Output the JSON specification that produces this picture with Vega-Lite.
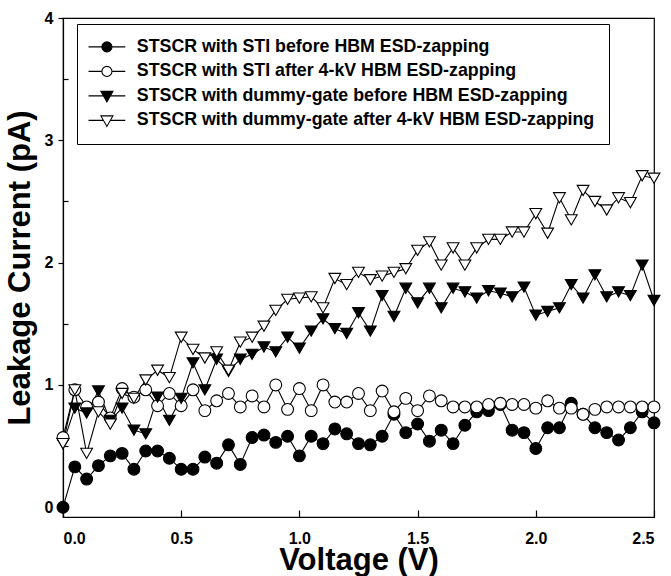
{
"$schema":"https://vega.github.io/schema/vega-lite/v6.json",
"width":591,"height":499,
"autosize":{"type":"none"},
"padding":{"left":63,"top":18,"right":17,"bottom":59},
"config":{"font":"Liberation Sans","view":{"stroke":"black","strokeWidth":1.2},
"axis":{"domainColor":"black","domainWidth":1.2,"tickColor":"black","tickWidth":1.2,"labelColor":"black","labelFontSize":16,"labelFontWeight":"bold","titleColor":"black","titleFontWeight":"bold","titleFontSize":31,"grid":false},
"legend":{"symbolStrokeColor":"black","symbolStrokeWidth":1.1}},
"data":{"values":[
{"series":"STSCR with STI before HBM ESD-zapping","V":0,"I":0.0},
{"series":"STSCR with STI before HBM ESD-zapping","V":0.05,"I":0.33},
{"series":"STSCR with STI before HBM ESD-zapping","V":0.1,"I":0.23},
{"series":"STSCR with STI before HBM ESD-zapping","V":0.15,"I":0.34},
{"series":"STSCR with STI before HBM ESD-zapping","V":0.2,"I":0.42},
{"series":"STSCR with STI before HBM ESD-zapping","V":0.25,"I":0.44},
{"series":"STSCR with STI before HBM ESD-zapping","V":0.3,"I":0.31},
{"series":"STSCR with STI before HBM ESD-zapping","V":0.35,"I":0.46},
{"series":"STSCR with STI before HBM ESD-zapping","V":0.4,"I":0.46},
{"series":"STSCR with STI before HBM ESD-zapping","V":0.45,"I":0.40},
{"series":"STSCR with STI before HBM ESD-zapping","V":0.5,"I":0.31},
{"series":"STSCR with STI before HBM ESD-zapping","V":0.55,"I":0.31},
{"series":"STSCR with STI before HBM ESD-zapping","V":0.6,"I":0.41},
{"series":"STSCR with STI before HBM ESD-zapping","V":0.65,"I":0.36},
{"series":"STSCR with STI before HBM ESD-zapping","V":0.7,"I":0.51},
{"series":"STSCR with STI before HBM ESD-zapping","V":0.75,"I":0.35},
{"series":"STSCR with STI before HBM ESD-zapping","V":0.8,"I":0.57},
{"series":"STSCR with STI before HBM ESD-zapping","V":0.85,"I":0.59},
{"series":"STSCR with STI before HBM ESD-zapping","V":0.9,"I":0.53},
{"series":"STSCR with STI before HBM ESD-zapping","V":0.95,"I":0.58},
{"series":"STSCR with STI before HBM ESD-zapping","V":1.0,"I":0.42},
{"series":"STSCR with STI before HBM ESD-zapping","V":1.05,"I":0.58},
{"series":"STSCR with STI before HBM ESD-zapping","V":1.1,"I":0.52},
{"series":"STSCR with STI before HBM ESD-zapping","V":1.15,"I":0.64},
{"series":"STSCR with STI before HBM ESD-zapping","V":1.2,"I":0.60},
{"series":"STSCR with STI before HBM ESD-zapping","V":1.25,"I":0.52},
{"series":"STSCR with STI before HBM ESD-zapping","V":1.3,"I":0.51},
{"series":"STSCR with STI before HBM ESD-zapping","V":1.35,"I":0.58},
{"series":"STSCR with STI before HBM ESD-zapping","V":1.4,"I":0.76},
{"series":"STSCR with STI before HBM ESD-zapping","V":1.45,"I":0.61},
{"series":"STSCR with STI before HBM ESD-zapping","V":1.5,"I":0.68},
{"series":"STSCR with STI before HBM ESD-zapping","V":1.55,"I":0.54},
{"series":"STSCR with STI before HBM ESD-zapping","V":1.6,"I":0.63},
{"series":"STSCR with STI before HBM ESD-zapping","V":1.65,"I":0.52},
{"series":"STSCR with STI before HBM ESD-zapping","V":1.7,"I":0.67},
{"series":"STSCR with STI before HBM ESD-zapping","V":1.75,"I":0.78},
{"series":"STSCR with STI before HBM ESD-zapping","V":1.8,"I":0.79},
{"series":"STSCR with STI before HBM ESD-zapping","V":1.85,"I":0.84},
{"series":"STSCR with STI before HBM ESD-zapping","V":1.9,"I":0.63},
{"series":"STSCR with STI before HBM ESD-zapping","V":1.95,"I":0.61},
{"series":"STSCR with STI before HBM ESD-zapping","V":2.0,"I":0.48},
{"series":"STSCR with STI before HBM ESD-zapping","V":2.05,"I":0.65},
{"series":"STSCR with STI before HBM ESD-zapping","V":2.1,"I":0.65},
{"series":"STSCR with STI before HBM ESD-zapping","V":2.15,"I":0.85},
{"series":"STSCR with STI before HBM ESD-zapping","V":2.2,"I":0.76},
{"series":"STSCR with STI before HBM ESD-zapping","V":2.25,"I":0.65},
{"series":"STSCR with STI before HBM ESD-zapping","V":2.3,"I":0.61},
{"series":"STSCR with STI before HBM ESD-zapping","V":2.35,"I":0.55},
{"series":"STSCR with STI before HBM ESD-zapping","V":2.4,"I":0.65},
{"series":"STSCR with STI before HBM ESD-zapping","V":2.45,"I":0.78},
{"series":"STSCR with STI before HBM ESD-zapping","V":2.5,"I":0.69},
{"series":"STSCR with STI after 4-kV HBM ESD-zapping","V":0,"I":0.57},
{"series":"STSCR with STI after 4-kV HBM ESD-zapping","V":0.05,"I":0.96},
{"series":"STSCR with STI after 4-kV HBM ESD-zapping","V":0.1,"I":0.82},
{"series":"STSCR with STI after 4-kV HBM ESD-zapping","V":0.15,"I":0.86},
{"series":"STSCR with STI after 4-kV HBM ESD-zapping","V":0.2,"I":0.73},
{"series":"STSCR with STI after 4-kV HBM ESD-zapping","V":0.25,"I":0.97},
{"series":"STSCR with STI after 4-kV HBM ESD-zapping","V":0.3,"I":0.90},
{"series":"STSCR with STI after 4-kV HBM ESD-zapping","V":0.35,"I":0.96},
{"series":"STSCR with STI after 4-kV HBM ESD-zapping","V":0.4,"I":0.83},
{"series":"STSCR with STI after 4-kV HBM ESD-zapping","V":0.45,"I":0.93},
{"series":"STSCR with STI after 4-kV HBM ESD-zapping","V":0.5,"I":0.83},
{"series":"STSCR with STI after 4-kV HBM ESD-zapping","V":0.55,"I":0.96},
{"series":"STSCR with STI after 4-kV HBM ESD-zapping","V":0.6,"I":0.79},
{"series":"STSCR with STI after 4-kV HBM ESD-zapping","V":0.65,"I":0.87},
{"series":"STSCR with STI after 4-kV HBM ESD-zapping","V":0.7,"I":0.93},
{"series":"STSCR with STI after 4-kV HBM ESD-zapping","V":0.75,"I":0.82},
{"series":"STSCR with STI after 4-kV HBM ESD-zapping","V":0.8,"I":0.91},
{"series":"STSCR with STI after 4-kV HBM ESD-zapping","V":0.85,"I":0.82},
{"series":"STSCR with STI after 4-kV HBM ESD-zapping","V":0.9,"I":1.00},
{"series":"STSCR with STI after 4-kV HBM ESD-zapping","V":0.95,"I":0.80},
{"series":"STSCR with STI after 4-kV HBM ESD-zapping","V":1.0,"I":0.97},
{"series":"STSCR with STI after 4-kV HBM ESD-zapping","V":1.05,"I":0.79},
{"series":"STSCR with STI after 4-kV HBM ESD-zapping","V":1.1,"I":1.00},
{"series":"STSCR with STI after 4-kV HBM ESD-zapping","V":1.15,"I":0.86},
{"series":"STSCR with STI after 4-kV HBM ESD-zapping","V":1.2,"I":0.86},
{"series":"STSCR with STI after 4-kV HBM ESD-zapping","V":1.25,"I":0.93},
{"series":"STSCR with STI after 4-kV HBM ESD-zapping","V":1.3,"I":0.79},
{"series":"STSCR with STI after 4-kV HBM ESD-zapping","V":1.35,"I":0.95},
{"series":"STSCR with STI after 4-kV HBM ESD-zapping","V":1.4,"I":0.78},
{"series":"STSCR with STI after 4-kV HBM ESD-zapping","V":1.45,"I":0.89},
{"series":"STSCR with STI after 4-kV HBM ESD-zapping","V":1.5,"I":0.79},
{"series":"STSCR with STI after 4-kV HBM ESD-zapping","V":1.55,"I":0.91},
{"series":"STSCR with STI after 4-kV HBM ESD-zapping","V":1.6,"I":0.87},
{"series":"STSCR with STI after 4-kV HBM ESD-zapping","V":1.65,"I":0.82},
{"series":"STSCR with STI after 4-kV HBM ESD-zapping","V":1.7,"I":0.82},
{"series":"STSCR with STI after 4-kV HBM ESD-zapping","V":1.75,"I":0.82},
{"series":"STSCR with STI after 4-kV HBM ESD-zapping","V":1.8,"I":0.84},
{"series":"STSCR with STI after 4-kV HBM ESD-zapping","V":1.85,"I":0.85},
{"series":"STSCR with STI after 4-kV HBM ESD-zapping","V":1.9,"I":0.84},
{"series":"STSCR with STI after 4-kV HBM ESD-zapping","V":1.95,"I":0.84},
{"series":"STSCR with STI after 4-kV HBM ESD-zapping","V":2.0,"I":0.81},
{"series":"STSCR with STI after 4-kV HBM ESD-zapping","V":2.05,"I":0.87},
{"series":"STSCR with STI after 4-kV HBM ESD-zapping","V":2.1,"I":0.81},
{"series":"STSCR with STI after 4-kV HBM ESD-zapping","V":2.15,"I":0.81},
{"series":"STSCR with STI after 4-kV HBM ESD-zapping","V":2.2,"I":0.76},
{"series":"STSCR with STI after 4-kV HBM ESD-zapping","V":2.25,"I":0.80},
{"series":"STSCR with STI after 4-kV HBM ESD-zapping","V":2.3,"I":0.82},
{"series":"STSCR with STI after 4-kV HBM ESD-zapping","V":2.35,"I":0.82},
{"series":"STSCR with STI after 4-kV HBM ESD-zapping","V":2.4,"I":0.82},
{"series":"STSCR with STI after 4-kV HBM ESD-zapping","V":2.45,"I":0.82},
{"series":"STSCR with STI after 4-kV HBM ESD-zapping","V":2.5,"I":0.82},
{"series":"STSCR with dummy-gate before HBM ESD-zapping","V":0,"I":0.52},
{"series":"STSCR with dummy-gate before HBM ESD-zapping","V":0.05,"I":0.81},
{"series":"STSCR with dummy-gate before HBM ESD-zapping","V":0.1,"I":0.77},
{"series":"STSCR with dummy-gate before HBM ESD-zapping","V":0.15,"I":0.95},
{"series":"STSCR with dummy-gate before HBM ESD-zapping","V":0.2,"I":0.71},
{"series":"STSCR with dummy-gate before HBM ESD-zapping","V":0.25,"I":0.81},
{"series":"STSCR with dummy-gate before HBM ESD-zapping","V":0.3,"I":0.63},
{"series":"STSCR with dummy-gate before HBM ESD-zapping","V":0.35,"I":0.60},
{"series":"STSCR with dummy-gate before HBM ESD-zapping","V":0.4,"I":0.90},
{"series":"STSCR with dummy-gate before HBM ESD-zapping","V":0.45,"I":0.71},
{"series":"STSCR with dummy-gate before HBM ESD-zapping","V":0.5,"I":0.89},
{"series":"STSCR with dummy-gate before HBM ESD-zapping","V":0.55,"I":1.18},
{"series":"STSCR with dummy-gate before HBM ESD-zapping","V":0.6,"I":0.96},
{"series":"STSCR with dummy-gate before HBM ESD-zapping","V":0.65,"I":1.21},
{"series":"STSCR with dummy-gate before HBM ESD-zapping","V":0.7,"I":1.11},
{"series":"STSCR with dummy-gate before HBM ESD-zapping","V":0.75,"I":1.21},
{"series":"STSCR with dummy-gate before HBM ESD-zapping","V":0.8,"I":1.25},
{"series":"STSCR with dummy-gate before HBM ESD-zapping","V":0.85,"I":1.31},
{"series":"STSCR with dummy-gate before HBM ESD-zapping","V":0.9,"I":1.27},
{"series":"STSCR with dummy-gate before HBM ESD-zapping","V":0.95,"I":1.39},
{"series":"STSCR with dummy-gate before HBM ESD-zapping","V":1.0,"I":1.30},
{"series":"STSCR with dummy-gate before HBM ESD-zapping","V":1.05,"I":1.44},
{"series":"STSCR with dummy-gate before HBM ESD-zapping","V":1.1,"I":1.54},
{"series":"STSCR with dummy-gate before HBM ESD-zapping","V":1.15,"I":1.46},
{"series":"STSCR with dummy-gate before HBM ESD-zapping","V":1.2,"I":1.42},
{"series":"STSCR with dummy-gate before HBM ESD-zapping","V":1.25,"I":1.59},
{"series":"STSCR with dummy-gate before HBM ESD-zapping","V":1.3,"I":1.44},
{"series":"STSCR with dummy-gate before HBM ESD-zapping","V":1.35,"I":1.73},
{"series":"STSCR with dummy-gate before HBM ESD-zapping","V":1.4,"I":1.56},
{"series":"STSCR with dummy-gate before HBM ESD-zapping","V":1.45,"I":1.79},
{"series":"STSCR with dummy-gate before HBM ESD-zapping","V":1.5,"I":1.67},
{"series":"STSCR with dummy-gate before HBM ESD-zapping","V":1.55,"I":1.79},
{"series":"STSCR with dummy-gate before HBM ESD-zapping","V":1.6,"I":1.63},
{"series":"STSCR with dummy-gate before HBM ESD-zapping","V":1.65,"I":1.79},
{"series":"STSCR with dummy-gate before HBM ESD-zapping","V":1.7,"I":1.76},
{"series":"STSCR with dummy-gate before HBM ESD-zapping","V":1.75,"I":1.71},
{"series":"STSCR with dummy-gate before HBM ESD-zapping","V":1.8,"I":1.77},
{"series":"STSCR with dummy-gate before HBM ESD-zapping","V":1.85,"I":1.75},
{"series":"STSCR with dummy-gate before HBM ESD-zapping","V":1.9,"I":1.72},
{"series":"STSCR with dummy-gate before HBM ESD-zapping","V":1.95,"I":1.80},
{"series":"STSCR with dummy-gate before HBM ESD-zapping","V":2.0,"I":1.57},
{"series":"STSCR with dummy-gate before HBM ESD-zapping","V":2.05,"I":1.60},
{"series":"STSCR with dummy-gate before HBM ESD-zapping","V":2.1,"I":1.63},
{"series":"STSCR with dummy-gate before HBM ESD-zapping","V":2.15,"I":1.82},
{"series":"STSCR with dummy-gate before HBM ESD-zapping","V":2.2,"I":1.71},
{"series":"STSCR with dummy-gate before HBM ESD-zapping","V":2.25,"I":1.90},
{"series":"STSCR with dummy-gate before HBM ESD-zapping","V":2.3,"I":1.72},
{"series":"STSCR with dummy-gate before HBM ESD-zapping","V":2.35,"I":1.76},
{"series":"STSCR with dummy-gate before HBM ESD-zapping","V":2.4,"I":1.73},
{"series":"STSCR with dummy-gate before HBM ESD-zapping","V":2.45,"I":1.98},
{"series":"STSCR with dummy-gate before HBM ESD-zapping","V":2.5,"I":1.69},
{"series":"STSCR with dummy-gate after 4-kV HBM ESD-zapping","V":0,"I":0.52},
{"series":"STSCR with dummy-gate after 4-kV HBM ESD-zapping","V":0.05,"I":0.96},
{"series":"STSCR with dummy-gate after 4-kV HBM ESD-zapping","V":0.1,"I":0.44},
{"series":"STSCR with dummy-gate after 4-kV HBM ESD-zapping","V":0.15,"I":0.78},
{"series":"STSCR with dummy-gate after 4-kV HBM ESD-zapping","V":0.2,"I":0.68},
{"series":"STSCR with dummy-gate after 4-kV HBM ESD-zapping","V":0.25,"I":0.93},
{"series":"STSCR with dummy-gate after 4-kV HBM ESD-zapping","V":0.3,"I":0.89},
{"series":"STSCR with dummy-gate after 4-kV HBM ESD-zapping","V":0.35,"I":1.04},
{"series":"STSCR with dummy-gate after 4-kV HBM ESD-zapping","V":0.4,"I":1.12},
{"series":"STSCR with dummy-gate after 4-kV HBM ESD-zapping","V":0.45,"I":1.06},
{"series":"STSCR with dummy-gate after 4-kV HBM ESD-zapping","V":0.5,"I":1.39},
{"series":"STSCR with dummy-gate after 4-kV HBM ESD-zapping","V":0.55,"I":1.29},
{"series":"STSCR with dummy-gate after 4-kV HBM ESD-zapping","V":0.6,"I":1.22},
{"series":"STSCR with dummy-gate after 4-kV HBM ESD-zapping","V":0.65,"I":1.27},
{"series":"STSCR with dummy-gate after 4-kV HBM ESD-zapping","V":0.7,"I":1.12},
{"series":"STSCR with dummy-gate after 4-kV HBM ESD-zapping","V":0.75,"I":1.35},
{"series":"STSCR with dummy-gate after 4-kV HBM ESD-zapping","V":0.8,"I":1.39},
{"series":"STSCR with dummy-gate after 4-kV HBM ESD-zapping","V":0.85,"I":1.48},
{"series":"STSCR with dummy-gate after 4-kV HBM ESD-zapping","V":0.9,"I":1.61},
{"series":"STSCR with dummy-gate after 4-kV HBM ESD-zapping","V":0.95,"I":1.70},
{"series":"STSCR with dummy-gate after 4-kV HBM ESD-zapping","V":1.0,"I":1.71},
{"series":"STSCR with dummy-gate after 4-kV HBM ESD-zapping","V":1.05,"I":1.72},
{"series":"STSCR with dummy-gate after 4-kV HBM ESD-zapping","V":1.1,"I":1.63},
{"series":"STSCR with dummy-gate after 4-kV HBM ESD-zapping","V":1.15,"I":1.87},
{"series":"STSCR with dummy-gate after 4-kV HBM ESD-zapping","V":1.2,"I":1.82},
{"series":"STSCR with dummy-gate after 4-kV HBM ESD-zapping","V":1.25,"I":1.92},
{"series":"STSCR with dummy-gate after 4-kV HBM ESD-zapping","V":1.3,"I":1.86},
{"series":"STSCR with dummy-gate after 4-kV HBM ESD-zapping","V":1.35,"I":1.89},
{"series":"STSCR with dummy-gate after 4-kV HBM ESD-zapping","V":1.4,"I":1.92},
{"series":"STSCR with dummy-gate after 4-kV HBM ESD-zapping","V":1.45,"I":1.95},
{"series":"STSCR with dummy-gate after 4-kV HBM ESD-zapping","V":1.5,"I":2.10},
{"series":"STSCR with dummy-gate after 4-kV HBM ESD-zapping","V":1.55,"I":2.17},
{"series":"STSCR with dummy-gate after 4-kV HBM ESD-zapping","V":1.6,"I":1.98},
{"series":"STSCR with dummy-gate after 4-kV HBM ESD-zapping","V":1.65,"I":2.12},
{"series":"STSCR with dummy-gate after 4-kV HBM ESD-zapping","V":1.7,"I":1.98},
{"series":"STSCR with dummy-gate after 4-kV HBM ESD-zapping","V":1.75,"I":2.12},
{"series":"STSCR with dummy-gate after 4-kV HBM ESD-zapping","V":1.8,"I":2.19},
{"series":"STSCR with dummy-gate after 4-kV HBM ESD-zapping","V":1.85,"I":2.19},
{"series":"STSCR with dummy-gate after 4-kV HBM ESD-zapping","V":1.9,"I":2.25},
{"series":"STSCR with dummy-gate after 4-kV HBM ESD-zapping","V":1.95,"I":2.25},
{"series":"STSCR with dummy-gate after 4-kV HBM ESD-zapping","V":2.0,"I":2.40},
{"series":"STSCR with dummy-gate after 4-kV HBM ESD-zapping","V":2.05,"I":2.24},
{"series":"STSCR with dummy-gate after 4-kV HBM ESD-zapping","V":2.1,"I":2.53},
{"series":"STSCR with dummy-gate after 4-kV HBM ESD-zapping","V":2.15,"I":2.35},
{"series":"STSCR with dummy-gate after 4-kV HBM ESD-zapping","V":2.2,"I":2.59},
{"series":"STSCR with dummy-gate after 4-kV HBM ESD-zapping","V":2.25,"I":2.50},
{"series":"STSCR with dummy-gate after 4-kV HBM ESD-zapping","V":2.3,"I":2.43},
{"series":"STSCR with dummy-gate after 4-kV HBM ESD-zapping","V":2.35,"I":2.53},
{"series":"STSCR with dummy-gate after 4-kV HBM ESD-zapping","V":2.4,"I":2.49},
{"series":"STSCR with dummy-gate after 4-kV HBM ESD-zapping","V":2.45,"I":2.71},
{"series":"STSCR with dummy-gate after 4-kV HBM ESD-zapping","V":2.5,"I":2.69}
]},
"encoding":{
"x":{"field":"V","type":"quantitative","scale":{"domain":[0,2.5],"nice":false,"zero":false},
"axis":{"title":"Voltage (V)","values":[0,0.5,1,1.5,2,2.5],"format":".1f","tickSize":-7,"labelPadding":20,"titlePadding":-1}},
"y":{"field":"I","type":"quantitative","scale":{"domain":[-0.08,4],"nice":false,"zero":false},
"axis":{"title":"Leakage Current (pA)","values":[0,0.5,1,1.5,2,2.5,3,3.5,4],"labelExpr":"datum.value % 1 == 0 ? format(datum.value, 'd') : ''","tickSize":{"condition":{"test":"datum.value % 1 != 0","value":-5},"value":5},"labelPadding":5,"titlePadding":8}}
},
"layer":[
{"mark":{"type":"line","color":"black","strokeWidth":1.1},
 "encoding":{"detail":{"field":"series"}}},
{"mark":{"type":"point","stroke":"black","strokeWidth":1.1,"opacity":1},
 "encoding":{
  "shape":{"field":"series","scale":{"domain":["STSCR with STI before HBM ESD-zapping","STSCR with STI after 4-kV HBM ESD-zapping","STSCR with dummy-gate before HBM ESD-zapping","STSCR with dummy-gate after 4-kV HBM ESD-zapping"],"range":["circle","circle","triangle-down","triangle-down"]},"legend":null},
  "fill":{"field":"series","scale":{"domain":["STSCR with STI before HBM ESD-zapping","STSCR with STI after 4-kV HBM ESD-zapping","STSCR with dummy-gate before HBM ESD-zapping","STSCR with dummy-gate after 4-kV HBM ESD-zapping"],"range":["black","white","black","white"]},"legend":null},
  "size":{"field":"series","scale":{"domain":["STSCR with STI before HBM ESD-zapping","STSCR with STI after 4-kV HBM ESD-zapping","STSCR with dummy-gate before HBM ESD-zapping","STSCR with dummy-gate after 4-kV HBM ESD-zapping"],"range":[140,140,190,190]},"legend":null}
 }},
{"transform":[{"filter":"false"}],
 "mark":{"type":"point","strokeWidth":1.1},
 "encoding":{
  "shape":{"field":"series","scale":{"domain":["STSCR with STI before HBM ESD-zapping","STSCR with STI after 4-kV HBM ESD-zapping","STSCR with dummy-gate before HBM ESD-zapping","STSCR with dummy-gate after 4-kV HBM ESD-zapping"],"range":["M-2.45,0L-0.67,0M0.67,0L2.45,0M0.67,0A0.67,0.67 0 1 1 -0.67,0A0.67,0.67 0 1 1 0.67,0Z","M-2.45,0L-0.67,0M0.67,0L2.45,0M0.67,0A0.67,0.67 0 1 1 -0.67,0A0.67,0.67 0 1 1 0.67,0Z","M-2.45,0L-0.46,0M0.46,0L2.45,0M-0.8,-0.6L0.8,-0.6L0,0.8Z","M-2.45,0L-0.46,0M0.46,0L2.45,0M-0.8,-0.6L0.8,-0.6L0,0.8Z"]},
   "legend":{"orient":"none","legendX":14,"legendY":6,"title":null,"symbolSize":225,"symbolStrokeWidth":1.1,"symbolOpacity":1,"symbolOffset":7,"labelFontSize":17.8,"labelFontWeight":"bold","labelColor":"black","labelOffset":21,"labelLimit":0,"rowPadding":5.5,"padding":14,"strokeColor":"black","fillColor":"white"}},
  "fill":{"field":"series","scale":{"domain":["STSCR with STI before HBM ESD-zapping","STSCR with STI after 4-kV HBM ESD-zapping","STSCR with dummy-gate before HBM ESD-zapping","STSCR with dummy-gate after 4-kV HBM ESD-zapping"],"range":["black","white","black","white"]},
   "legend":{"orient":"none","legendX":14,"legendY":6,"title":null,"symbolSize":225,"symbolStrokeWidth":1.1,"symbolOpacity":1,"symbolOffset":7,"labelFontSize":17.8,"labelFontWeight":"bold","labelColor":"black","labelOffset":21,"labelLimit":0,"rowPadding":5.5,"padding":14,"strokeColor":"black","fillColor":"white"}},
  "stroke":{"field":"series","scale":{"domain":["STSCR with STI before HBM ESD-zapping","STSCR with STI after 4-kV HBM ESD-zapping","STSCR with dummy-gate before HBM ESD-zapping","STSCR with dummy-gate after 4-kV HBM ESD-zapping"],"range":["black","black","black","black"]},
   "legend":{"orient":"none","legendX":14,"legendY":6,"title":null,"symbolSize":225,"symbolStrokeWidth":1.1,"symbolOpacity":1,"symbolOffset":7,"labelFontSize":17.8,"labelFontWeight":"bold","labelColor":"black","labelOffset":21,"labelLimit":0,"rowPadding":5.5,"padding":14,"strokeColor":"black","fillColor":"white"}}
 }}
],
"resolve":{"scale":{"shape":"independent","fill":"independent","size":"independent","stroke":"independent"}}
}
